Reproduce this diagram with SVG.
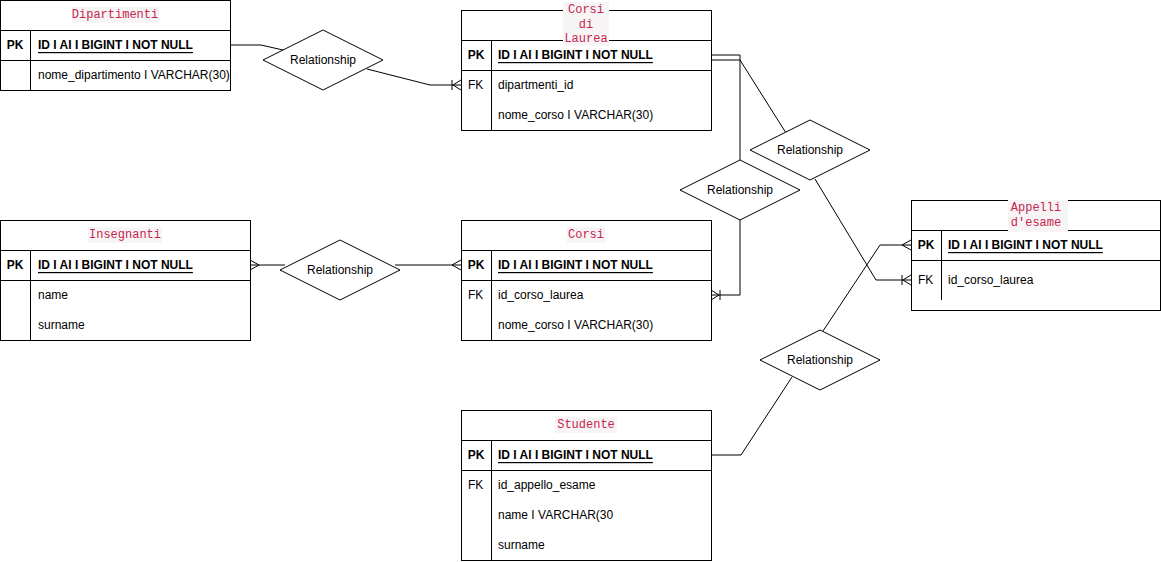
<svg xmlns="http://www.w3.org/2000/svg" width="1161" height="562" viewBox="0 0 1161 562">
<style>
.box{fill:#fff;stroke:#000;stroke-width:1}
.ln{fill:none;stroke:#000;stroke-width:1}
.title{font-family:"Liberation Mono",monospace;font-size:12px;fill:#c7254e;text-anchor:middle;dominant-baseline:central}
.tbg{fill:#f7f4f5}
.k{font-family:"Liberation Sans",Arial,sans-serif;font-size:12px;font-weight:bold;text-anchor:middle;dominant-baseline:central}
.pk{font-family:"Liberation Sans",Arial,sans-serif;font-size:12px;font-weight:bold;text-decoration:underline;dominant-baseline:central}
.f{font-family:"Liberation Sans",Arial,sans-serif;font-size:12px;dominant-baseline:central}
.rel{font-family:"Liberation Sans",Arial,sans-serif;font-size:12px;text-anchor:middle;dominant-baseline:central}
.dia{fill:#fff;stroke:#000;stroke-width:1}
</style>
<defs>
<marker id="many" markerUnits="userSpaceOnUse" viewBox="-12 -8 14 16" markerWidth="14" markerHeight="16" refX="0" refY="0" orient="auto">
<path d="M-9,0 L0,-5 M-9,0 L0,5" fill="none" stroke="#000" stroke-width="1"/>
</marker>
<marker id="oneMany" markerUnits="userSpaceOnUse" viewBox="-12 -8 14 16" markerWidth="14" markerHeight="16" refX="0" refY="0" orient="auto">
<path d="M-8,0 L0,-5 M-8,0 L0,5 M-9,-5 L-9,5" fill="none" stroke="#000" stroke-width="1"/>
</marker>
</defs>

<g id="connectors">
<polyline class="ln" points="230,45 261,45 283,50"/>
<polyline class="ln" points="367,69 430,85 461,85" marker-end="url(#oneMany)"/>
<polyline class="ln" points="285,265 250,265" marker-end="url(#many)"/>
<polyline class="ln" points="395,265 461,265" marker-end="url(#many)"/>
<polyline class="ln" points="711,55 740,55 740,160"/>
<polyline class="ln" points="711,60 740,60 786,133"/>
<polyline class="ln" points="740,220 740,295 711,295" marker-end="url(#oneMany)"/>
<polyline class="ln" points="815,179 876,280 911,280" marker-end="url(#oneMany)"/>
<polyline class="ln" points="823,331 880,245 911,245" marker-end="url(#many)"/>
<polyline class="ln" points="792,377 741,455 711,455"/>
</g>

<g id="dipartimenti">
<rect class="box" x="0.5" y="0.5" width="230" height="90"/>
<line class="ln" x1="0.5" y1="30.5" x2="230.5" y2="30.5"/>
<line class="ln" x1="0.5" y1="60.5" x2="230.5" y2="60.5"/>
<line class="ln" x1="30.5" y1="30.5" x2="30.5" y2="90.5"/>
<rect class="tbg" x="72" y="7" width="87" height="16"/>
<text class="title" x="115" y="15">Dipartimenti</text>
<text class="k" x="15" y="45">PK</text>
<text class="pk" x="38" y="45">ID I AI I BIGINT I NOT NULL</text>
<text class="f" x="38" y="75">nome_dipartimento I VARCHAR(30)</text>
</g>

<g id="corsi-di-laurea">
<rect class="box" x="461.5" y="10.5" width="250" height="120"/>
<line class="ln" x1="461.5" y1="40.5" x2="711.5" y2="40.5"/>
<line class="ln" x1="461.5" y1="70.5" x2="711.5" y2="70.5"/>
<line class="ln" x1="491.5" y1="40.5" x2="491.5" y2="130.5"/>
<rect class="tbg" x="563" y="2" width="46" height="44"/>
<text class="title" x="586" y="10">Corsi</text>
<text class="title" x="586" y="24.5">di</text>
<text class="title" x="586" y="39">Laurea</text>
<text class="k" x="476" y="55">PK</text>
<text class="pk" x="498" y="55">ID I AI I BIGINT I NOT NULL</text>
<text class="f" x="468" y="85">FK</text>
<text class="f" x="498" y="85">dipartmenti_id</text>
<text class="f" x="498" y="115">nome_corso I VARCHAR(30)</text>
</g>

<g id="insegnanti">
<rect class="box" x="0.5" y="220.5" width="250" height="120"/>
<line class="ln" x1="0.5" y1="250.5" x2="250.5" y2="250.5"/>
<line class="ln" x1="0.5" y1="280.5" x2="250.5" y2="280.5"/>
<line class="ln" x1="30.5" y1="250.5" x2="30.5" y2="340.5"/>
<rect class="tbg" x="88" y="227" width="74" height="16"/>
<text class="title" x="125" y="235">Insegnanti</text>
<text class="k" x="15" y="265">PK</text>
<text class="pk" x="38" y="265">ID I AI I BIGINT I NOT NULL</text>
<text class="f" x="38" y="295">name</text>
<text class="f" x="38" y="325">surname</text>
</g>

<g id="corsi">
<rect class="box" x="461.5" y="220.5" width="250" height="120"/>
<line class="ln" x1="461.5" y1="250.5" x2="711.5" y2="250.5"/>
<line class="ln" x1="461.5" y1="280.5" x2="711.5" y2="280.5"/>
<line class="ln" x1="491.5" y1="250.5" x2="491.5" y2="340.5"/>
<rect class="tbg" x="567" y="227" width="38" height="16"/>
<text class="title" x="586" y="235">Corsi</text>
<text class="k" x="476" y="265">PK</text>
<text class="pk" x="498" y="265">ID I AI I BIGINT I NOT NULL</text>
<text class="f" x="468" y="295">FK</text>
<text class="f" x="498" y="295">id_corso_laurea</text>
<text class="f" x="498" y="325">nome_corso I VARCHAR(30)</text>
</g>

<g id="appelli">
<rect class="box" x="911.5" y="200.5" width="249" height="110"/>
<line class="ln" x1="911.5" y1="230.5" x2="1160.5" y2="230.5"/>
<line class="ln" x1="911.5" y1="260.5" x2="1160.5" y2="260.5"/>
<line class="ln" x1="941.5" y1="230.5" x2="941.5" y2="300"/>
<rect class="tbg" x="1008" y="200" width="60" height="32"/>
<text class="title" x="1036" y="208">Appelli</text>
<text class="title" x="1036" y="223">d'esame</text>
<text class="k" x="926" y="245">PK</text>
<text class="pk" x="948" y="245">ID I AI I BIGINT I NOT NULL</text>
<text class="f" x="918" y="280">FK</text>
<text class="f" x="948" y="280">id_corso_laurea</text>
</g>

<g id="studente">
<rect class="box" x="461.5" y="410.5" width="250" height="150"/>
<line class="ln" x1="461.5" y1="440.5" x2="711.5" y2="440.5"/>
<line class="ln" x1="461.5" y1="470.5" x2="711.5" y2="470.5"/>
<line class="ln" x1="491.5" y1="440.5" x2="491.5" y2="560.5"/>
<rect class="tbg" x="555" y="417" width="62" height="16"/>
<text class="title" x="586" y="425">Studente</text>
<text class="k" x="476" y="455">PK</text>
<text class="pk" x="498" y="455">ID I AI I BIGINT I NOT NULL</text>
<text class="f" x="468" y="485">FK</text>
<text class="f" x="498" y="485">id_appello_esame</text>
<text class="f" x="498" y="515">name I VARCHAR(30</text>
<text class="f" x="498" y="545">surname</text>
</g>

<g id="rel-dipartimenti-corsilaurea">
<polygon class="dia" points="263,60 323,30 383,60 323,90"/>
<text class="rel" x="323" y="60">Relationship</text>
</g>
<g id="rel-insegnanti-corsi">
<polygon class="dia" points="280,270 340,240 400,270 340,300"/>
<text class="rel" x="340" y="270">Relationship</text>
</g>
<g id="rel-corsilaurea-corsi">
<polygon class="dia" points="680,190 740,160 800,190 740,220"/>
<text class="rel" x="740" y="190">Relationship</text>
</g>
<g id="rel-corsilaurea-appelli">
<polygon class="dia" points="750,150 810,120 870,150 810,180"/>
<text class="rel" x="810" y="150">Relationship</text>
</g>
<g id="rel-studente-appelli">
<polygon class="dia" points="760,360 820,330 880,360 820,390"/>
<text class="rel" x="820" y="360">Relationship</text>
</g>
</svg>
